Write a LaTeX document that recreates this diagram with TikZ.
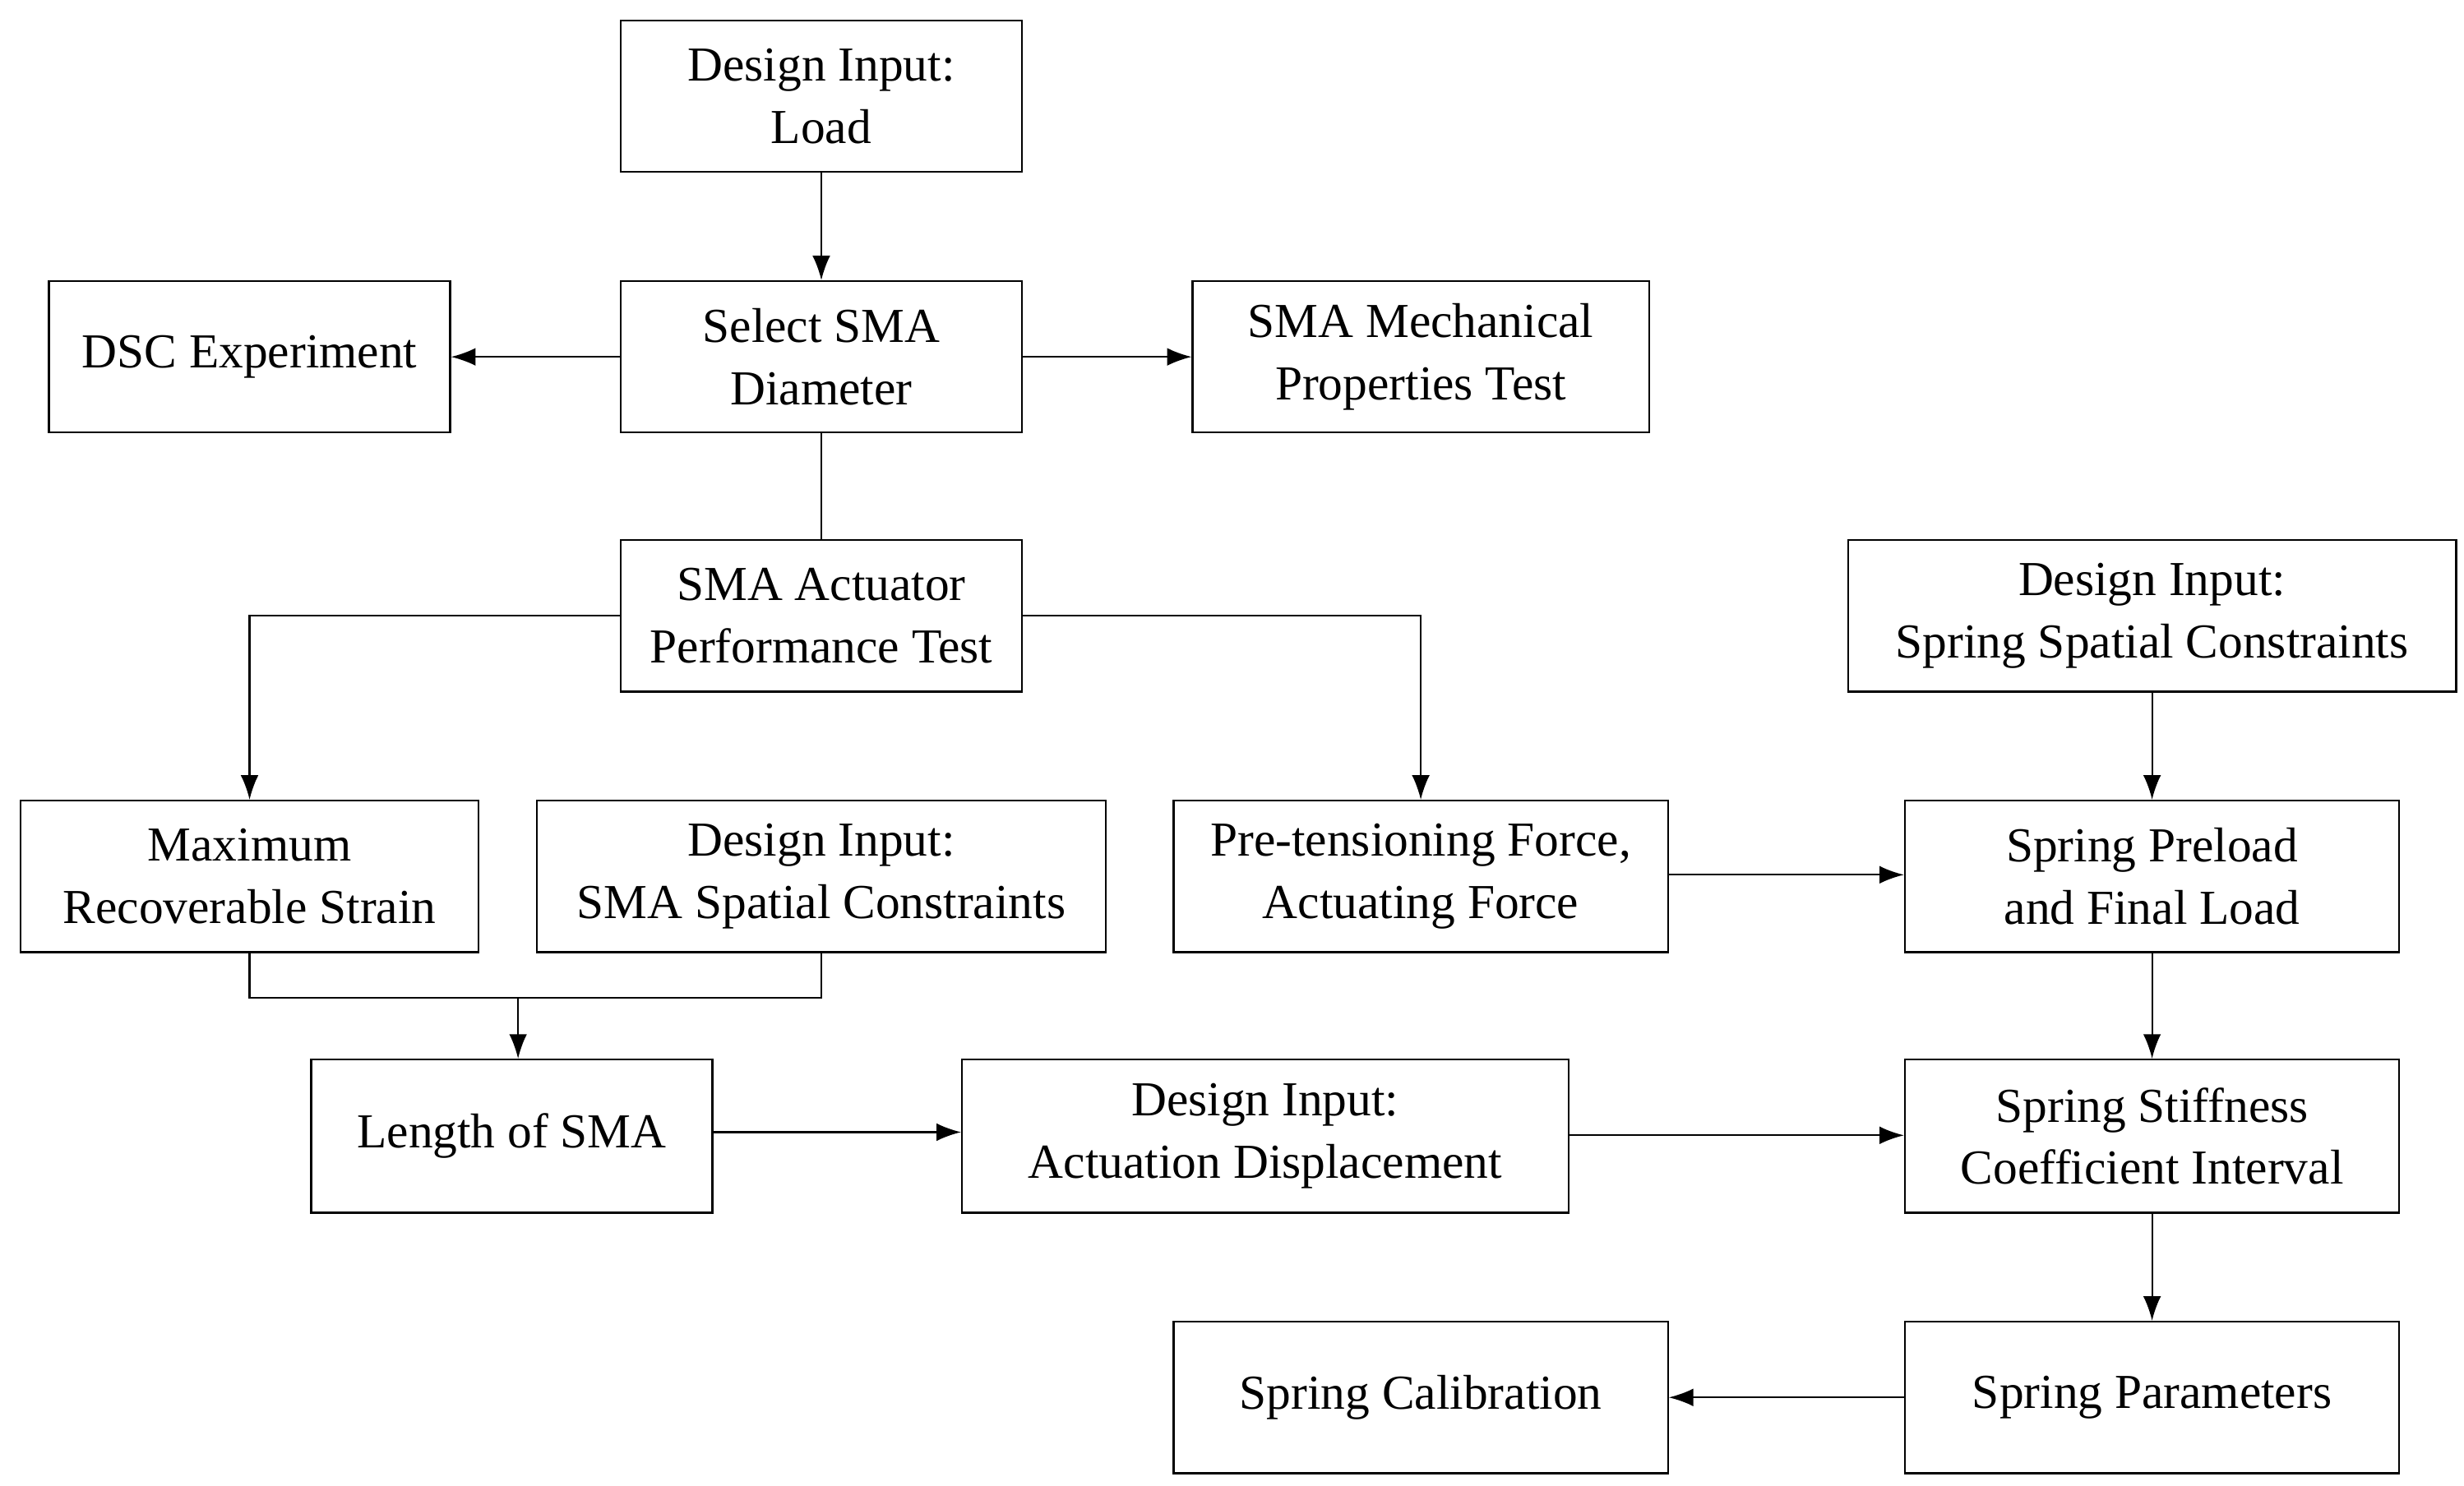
\documentclass[tikz,border=0pt]{standalone}
\usepackage{fontspec}
\setmainfont{Liberation Serif}
\usetikzlibrary{arrows.meta}
\begin{document}
\begin{tikzpicture}[x=0.05cm,y=-0.05cm,
 box/.style={draw,line width=1.6pt,inner sep=0pt,align=center,font=\fontsize{44}{56}\selectfont},
 ln/.style={line width=1.6pt},
 ar/.style={ln,-{Latex[length=22pt,width=16pt]}}]
\useasboundingbox (0,0) rectangle (1560,941);
\newcommand\bx[6]{\node[box,minimum width=(#4-#2)*0.05cm,minimum height=(#5-#3)*0.05cm] (#1) at ({(#2+#4)/2},{(#3+#5)/2}) {#6};}
\bx{load}{393}{13}{647}{109}{Design Input:\\Load}
\bx{sel}{393}{178}{647}{274}{Select SMA\\Diameter}
\bx{dsc}{31}{178}{285}{274}{DSC Experiment}
\bx{mech}{755}{178}{1044}{274}{SMA Mechanical\\Properties Test}
\bx{act}{393}{342}{647}{438}{SMA Actuator\\Performance Test}
\bx{ssc}{1170}{342}{1555}{438}{Design Input:\\Spring Spatial Constraints}
\bx{mrs}{13}{507}{303}{603}{Maximum\\Recoverable Strain}
\bx{smasc}{340}{507}{700}{603}{Design Input:\\SMA Spatial Constraints}
\bx{pre}{743}{507}{1056}{603}{Pre-tensioning Force,\\Actuating Force}
\bx{pl}{1206}{507}{1519}{603}{Spring Preload\\and Final Load}
\bx{len}{197}{671}{451}{768}{Length of SMA}
\bx{ad}{609}{671}{993}{768}{Design Input:\\Actuation Displacement}
\bx{st}{1206}{671}{1519}{768}{Spring Stiffness\\Coefficient Interval}
\bx{cal}{743}{837}{1056}{933}{Spring Calibration}
\bx{par}{1206}{837}{1519}{933}{Spring Parameters}
\draw[ar] (load) -- (sel);
\draw[ar] (sel) -- (dsc);
\draw[ar] (sel) -- (mech);
\draw[ln] (sel) -- (act);
\draw[ar] (act.west) -| (mrs.north);
\draw[ar] (act.east) -| (pre.north);
\coordinate (j) at (328,632);
\draw[ln] (mrs.south) |- (j) -| (smasc.south);
\draw[ar] (j) -- (len.north -| j);
\draw[ar] (len.east |- 0,717) -- (ad.west |- 0,717);
\draw[ar] (ad.east |- 0,719) -- (st.west |- 0,719);
\draw[ar] (pre.east |- 0,554) -- (pl.west |- 0,554);
\draw[ar] (ssc) -- (pl);
\draw[ar] (pl) -- (st);
\draw[ar] (st) -- (par);
\draw[ar] (par) -- (cal);
\end{tikzpicture}
\end{document}
